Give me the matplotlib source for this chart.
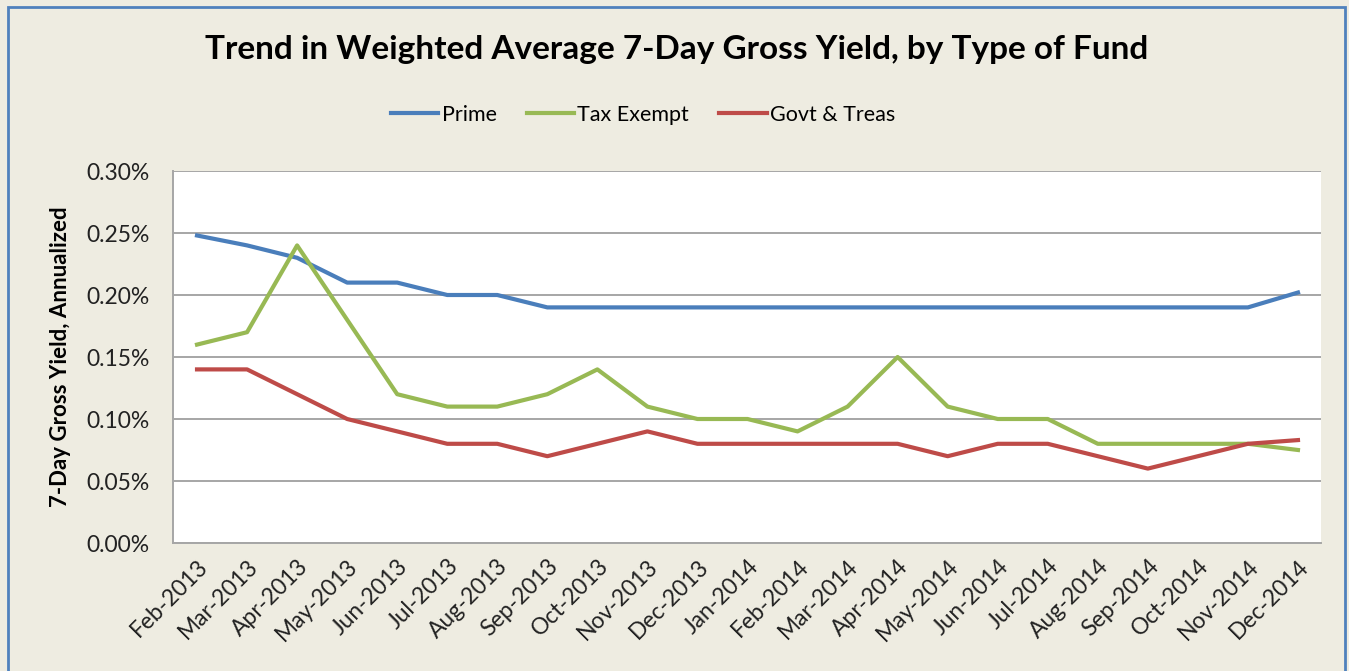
import matplotlib
matplotlib.use("Agg")
import matplotlib.pyplot as plt
from matplotlib.patches import Rectangle
from matplotlib.ticker import FuncFormatter

plt.rcParams['font.family'] = ['Lato', 'DejaVu Sans']

months = ["Feb-2013", "Mar-2013", "Apr-2013", "May-2013", "Jun-2013", "Jul-2013",
          "Aug-2013", "Sep-2013", "Oct-2013", "Nov-2013", "Dec-2013", "Jan-2014",
          "Feb-2014", "Mar-2014", "Apr-2014", "May-2014", "Jun-2014", "Jul-2014",
          "Aug-2014", "Sep-2014", "Oct-2014", "Nov-2014", "Dec-2014"]

prime = [0.248, 0.24, 0.23, 0.21, 0.21, 0.20, 0.20, 0.19, 0.19, 0.19, 0.19, 0.19,
         0.19, 0.19, 0.19, 0.19, 0.19, 0.19, 0.19, 0.19, 0.19, 0.19, 0.202]
tax_exempt = [0.16, 0.17, 0.24, 0.18, 0.12, 0.11, 0.11, 0.12, 0.14, 0.11, 0.10, 0.10,
              0.09, 0.11, 0.15, 0.11, 0.10, 0.10, 0.08, 0.08, 0.08, 0.08, 0.075]
govt_treas = [0.14, 0.14, 0.12, 0.10, 0.09, 0.08, 0.08, 0.07, 0.08, 0.09, 0.08, 0.08,
              0.08, 0.08, 0.08, 0.07, 0.08, 0.08, 0.07, 0.06, 0.07, 0.08, 0.083]

bg = '#EEECE1'
fig = plt.figure(figsize=(13.49, 6.71), dpi=100, facecolor=bg)
ax = fig.add_axes([173 / 1349, 1 - 543 / 671, (1321 - 173) / 1349, (543 - 171) / 671])
ax.set_facecolor('white')

x = list(range(len(months)))
ax.plot(x, prime, color='#4A7EBB', lw=3, label='Prime')
ax.plot(x, tax_exempt, color='#98B954', lw=3, label='Tax Exempt')
ax.plot(x, govt_treas, color='#BE4B48', lw=3, label='Govt & Treas')

ax.set_xlim(-0.48, 22.46)
ax.set_ylim(0, 0.30)
ax.set_yticks([0, 0.05, 0.10, 0.15, 0.20, 0.25, 0.30])
ax.yaxis.set_major_formatter(FuncFormatter(lambda v, p: f"{v:.2f}%"))
ax.set_xticks(x)
ax.set_xticklabels(months, rotation=45, ha='right', rotation_mode='anchor')
ax.tick_params(axis='both', length=0, labelsize=16.5, colors='#222222')
ax.tick_params(axis='x', pad=9)
ax.tick_params(axis='y', pad=17)
ax.grid(axis='y', color='#A6A6A6', lw=1.4)
ax.set_axisbelow(True)
for side in ['top', 'right']:
    ax.spines[side].set_visible(False)
for side in ['left', 'bottom']:
    ax.spines[side].set_color('#A6A6A6')
    ax.spines[side].set_linewidth(1.4)

ax.set_ylabel('7-Day Gross Yield, Annualized', fontsize=16, fontweight='bold', labelpad=11)

fig.text(677 / 1349, 1 - 50 / 671, 'Trend in Weighted Average 7-Day Gross Yield, by Type of Fund',
         ha='center', va='center', fontsize=24, fontweight='bold', color='black')

leg = fig.legend(loc='center', bbox_to_anchor=(643 / 1349, 1 - 115 / 671), ncol=3, frameon=False,
                 fontsize=15.5, handlelength=2.2, handletextpad=0.15, columnspacing=1.4)

fig.patches.append(Rectangle((8 / 1349, -0.01), 1337 / 1349, 1 - 7 / 671 + 0.01,
                             transform=fig.transFigure, fill=False,
                             edgecolor='#4F81BD', lw=2))

fig.savefig('out.png', dpi=100, facecolor=bg)
